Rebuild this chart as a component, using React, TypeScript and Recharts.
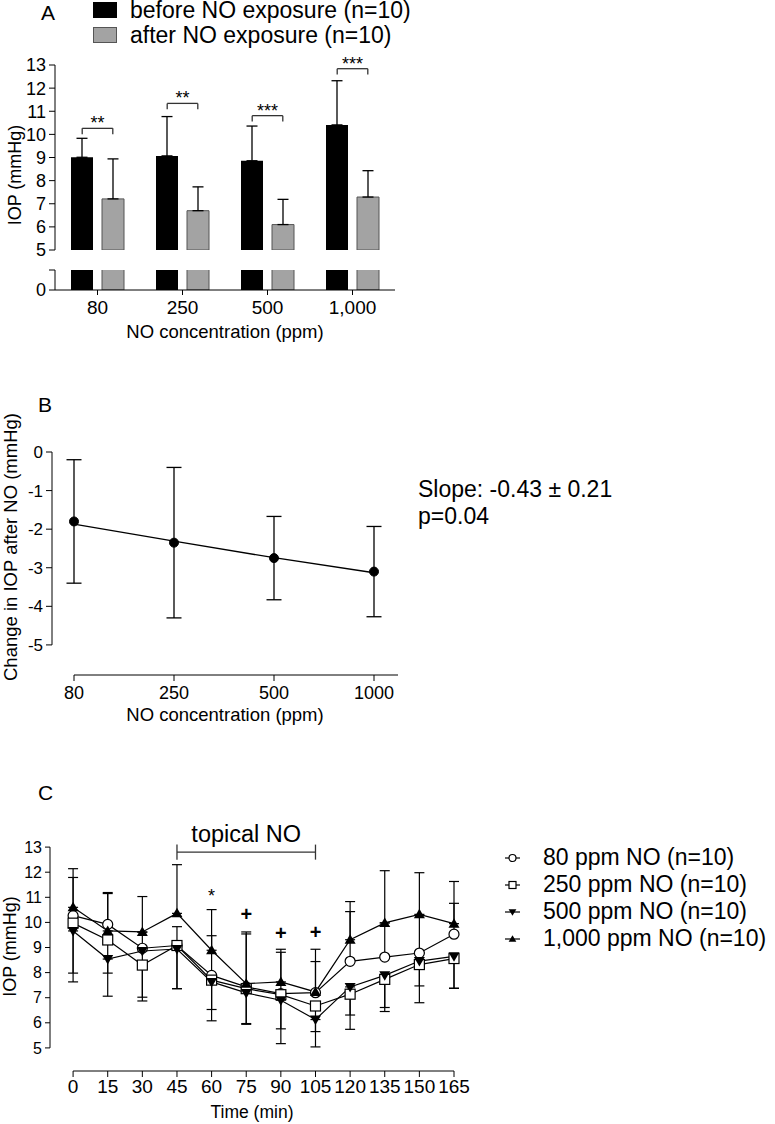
import React from "react";
import {
  Bar,
  BarChart,
  ErrorBar,
  Legend,
  Line,
  LineChart,
  ReferenceDot,
  ReferenceLine,
  XAxis,
  YAxis,
} from "recharts";

// panel A: IOP before / after NO exposure
const doseLabels = ["80", "250", "500", "1,000"];
const beforeMean = [9.01, 9.07, 8.86, 10.41];
const beforeSd = [0.82, 1.7, 1.5, 1.91];
const afterMean = [7.21, 6.7, 6.1, 7.29];
const afterSd = [1.73, 1.03, 1.09, 1.14];
const bracketAt = [10.26, 11.34, 10.81, 12.84];
const bracketStars = ["**", "**", "***", "***"];
const barNames = ["before NO exposure (n=10)", "after NO exposure (n=10)"];

// panel B: change in IOP vs dose
const doseLabelsB = ["80", "250", "500", "1000"];
const changeMean = [-1.8, -2.35, -2.75, -3.1];
const changeSd = [1.6, 1.95, 1.08, 1.17];
const changeFit = [-1.87, -2.31, -2.74, -3.13];

// panel C: time course
const times = [0, 15, 30, 45, 60, 75, 90, 105, 120, 135, 150, 165];
const m80 = [10.27, 9.92, 8.97, 9.08, 7.89, 7.43, 7.16, 7.2, 8.45, 8.62, 8.78, 9.53];
const up80 = [1.52, 1.23, 0.64, 0.75, 1.58, 2.11, 1.65, 1.24, 1.98, 1.36, 1.5, 1.23];
const m250 = [9.97, 9.3, 8.3, 9.08, 7.7, 7.36, 7.12, 6.67, 7.14, 7.73, 8.32, 8.56];
const down250 = [1.99, 1.32, 1.28, 1.72, 1.17, 1.39, 1.36, 1.02, 0.83, 1.12, 0.85, 1.18];
const m500 = [9.66, 8.54, 8.86, 8.94, 7.63, 7.19, 6.9, 6.13, 7.43, 7.89, 8.46, 8.65];
const down500 = [2.03, 1.48, 1.99, 1.58, 1.55, 1.25, 1.73, 1.09, 1.69, 1.44, 1.66, 1.28];
const m1000 = [10.6, 9.66, 9.62, 10.36, 8.89, 7.56, 7.63, 7.23, 9.31, 9.98, 10.32, 9.95];
const up1000 = [1.54, 1.53, 1.41, 1.94, 1.62, 2.06, 1.3, 1.7, 1.52, 2.08, 1.66, 1.68];
const seriesNames = ["80 ppm NO (n=10)", "250 ppm NO (n=10)", "500 ppm NO (n=10)", "1,000 ppm NO (n=10)"];
const marks = [
  { t: 60, v: 11.06, s: "*" },
  { t: 75, v: 10.33, s: "+" },
  { t: 90, v: 9.59, s: "+" },
  { t: 105, v: 9.62, s: "+" },
];

const rowsA = doseLabels.map((_, i) => ({
  x: i,
  before: beforeMean[i],
  after: afterMean[i],
  beforeErr: [0, beforeSd[i]],
  afterErr: [0, afterSd[i]],
}));

const rowsB = doseLabelsB.map((_, i) => ({
  x: i,
  mean: changeMean[i],
  err: changeSd[i],
  fit: changeFit[i],
}));

const rowsC = times.map((t, i) => ({
  t,
  m80: m80[i],
  e80: [0, up80[i]],
  m250: m250[i],
  e250: [down250[i], 0],
  m500: m500[i],
  e500: [down500[i], 0],
  m1000: m1000[i],
  e1000: [0, up1000[i]],
}));

const tick = (size: number) => ({ fill: "#000", fontSize: size });
const GRAY = "#a3a3a3";

function vTitle(text: string, dx: number, dy: number, size: number) {
  return (props: any) => {
    const vb = props.viewBox;
    const x = vb.x + dx;
    const y = vb.y + vb.height / 2 + dy;
    return (
      <text
        x={x}
        y={y}
        transform={`rotate(-90 ${x} ${y})`}
        textAnchor="middle"
        dominantBaseline="central"
        fontSize={size}
        fill="#000"
      >
        {text}
      </text>
    );
  };
}

function hTitle(text: string, dy: number, size: number) {
  return (props: any) => {
    const vb = props.viewBox;
    return (
      <text x={vb.x + vb.width / 2} y={vb.y + dy} textAnchor="middle" fontSize={size} fill="#000">
        {text}
      </text>
    );
  };
}

function Marker({ kind, cx, cy, r }: { kind: number; cx: number; cy: number; r: number }) {
  if (kind === 0) return <circle cx={cx} cy={cy} r={r} fill="#fff" stroke="#000" strokeWidth={1.2} />;
  if (kind === 1)
    return <rect x={cx - r} y={cy - r} width={2 * r} height={2 * r} fill="#fff" stroke="#000" strokeWidth={1.2} />;
  if (kind === 2)
    return (
      <polygon
        points={`${cx - r * 1.1},${cy - r * 0.8} ${cx + r * 1.1},${cy - r * 0.8} ${cx},${cy + r * 1.1}`}
        fill="#000"
      />
    );
  return (
    <polygon
      points={`${cx - r * 1.1},${cy + r * 0.8} ${cx + r * 1.1},${cy + r * 0.8} ${cx},${cy - r * 1.1}`}
      fill="#000"
    />
  );
}

const dotFor = (kind: number) => (p: any) => <Marker key={`m${kind}-${p.index}`} kind={kind} cx={p.cx} cy={p.cy} r={5} />;

function LegendA({ payload }: any) {
  return (
    <div style={{ whiteSpace: "nowrap" }}>
      {(payload || []).map((item: any) => (
        <div key={item.value} style={{ display: "flex", alignItems: "flex-start", height: 25, fontSize: 23 }}>
          <span
            style={{
              display: "inline-block",
              width: 24,
              height: 16,
              marginTop: 2,
              background: item.color,
              boxSizing: "border-box",
              border: `1px solid ${item.color === GRAY ? "#555" : "#000"}`,
              marginRight: 13,
            }}
          />
          <span style={{ lineHeight: "21px" }}>{item.value}</span>
        </div>
      ))}
    </div>
  );
}

function LegendC({ payload }: any) {
  return (
    <div style={{ whiteSpace: "nowrap" }}>
      {(payload || []).map((item: any) => (
        <div key={item.value} style={{ display: "flex", alignItems: "center", height: 27, fontSize: 23, lineHeight: "27px" }}>
          <svg width={38} height={14}>
            <line x1={0} y1={7} x2={15} y2={7} stroke="#000" strokeWidth={1.2} />
            <Marker kind={seriesNames.indexOf(item.value)} cx={7.5} cy={7} r={3.5} />
          </svg>
          <span>{item.value}</span>
        </div>
      ))}
    </div>
  );
}

const text = (left: number, top: number, size: number, content: React.ReactNode) => (
  <div style={{ position: "absolute", left, top, fontSize: size, lineHeight: 1, whiteSpace: "nowrap" }}>{content}</div>
);

export default function App() {
  return (
    <div
      style={{
        position: "absolute",
        left: 0,
        top: 0,
        width: 775,
        height: 1124,
        background: "#fff",
        fontFamily: "'Liberation Sans', Arial, sans-serif",
        color: "#000",
        overflow: "hidden",
      }}
    >
      {text(41, 2, 21, "A")}
      {text(38, 394, 21, "B")}
      {text(38, 782, 21, "C")}

      {/* Panel A, upper segment 5-13 */}
      <div style={{ position: "absolute", left: 0, top: 0 }}>
        <BarChart width={450} height={262} data={rowsA} margin={{ top: 65, right: 55, bottom: 12, left: 0 }} barGap={9} barSize={22}>
          <XAxis type="number" dataKey="x" domain={[-0.5, 3.5]} hide />
          <YAxis
            domain={[5, 13]}
            ticks={[5, 6, 7, 8, 9, 10, 11, 12, 13]}
            interval={0}
            allowDataOverflow
            width={55}
            tick={tick(18)}
            tickSize={6}
            tickMargin={3}
            stroke="#000"
            label={vTitle("IOP (mmHg)", 15, 17.5, 18)}
          />
          <Legend
            layout="vertical"
            align="center"
            verticalAlign="middle"
            itemSorter={(item: any) => barNames.indexOf(item.value)}
            wrapperStyle={{ left: 93, top: 0, width: 350 }}
            content={<LegendA />}
          />
          <Bar dataKey="before" name={barNames[0]} fill="#000" isAnimationActive={false}>
            <ErrorBar dataKey="beforeErr" direction="y" width={5.5} stroke="#000" strokeWidth={1.3} />
          </Bar>
          <Bar dataKey="after" name={barNames[1]} fill={GRAY} stroke="#555" isAnimationActive={false}>
            <ErrorBar dataKey="afterErr" direction="y" width={5.5} stroke="#000" strokeWidth={1.3} />
          </Bar>
          {bracketAt.map((b, i) => (
            <ReferenceLine key={`bh${i}`} segment={[{ x: i - 0.18, y: b }, { x: i + 0.18, y: b }]} stroke="#333" strokeWidth={1.3} />
          ))}
          {bracketAt.map((b, i) => (
            <ReferenceLine key={`bl${i}`} segment={[{ x: i - 0.18, y: b }, { x: i - 0.18, y: b - 0.25 }]} stroke="#333" strokeWidth={1.3} />
          ))}
          {bracketAt.map((b, i) => (
            <ReferenceLine key={`br${i}`} segment={[{ x: i + 0.18, y: b }, { x: i + 0.18, y: b - 0.25 }]} stroke="#333" strokeWidth={1.3} />
          ))}
          {bracketAt.map((b, i) => (
            <ReferenceDot
              key={`bs${i}`}
              x={i}
              y={b}
              r={0}
              fill="none"
              stroke="none"
              label={{ value: bracketStars[i], position: "top", offset: -1, fill: "#000", fontSize: 18 }}
            />
          ))}
        </BarChart>
      </div>

      {/* Panel A, lower segment near 0 */}
      <div style={{ position: "absolute", left: 0, top: 265 }}>
        <BarChart width={450} height={85} data={rowsA} margin={{ top: 5, right: 55, bottom: 0, left: 0 }} barGap={9} barSize={22}>
          <XAxis
            type="number"
            dataKey="x"
            domain={[-0.5, 3.5]}
            ticks={[0, 1, 2, 3]}
            interval={0}
            tickFormatter={(v) => doseLabels[v]}
            height={60}
            tick={tick(19)}
            tickSize={5}
            tickMargin={6}
            stroke="#000"
            label={hTitle("NO concentration (ppm)", 48, 18.5)}
          />
          <YAxis
            domain={[0, 0.87]}
            ticks={[0, 0.87]}
            interval={0}
            tickFormatter={(v) => (v === 0 ? "0" : "")}
            allowDataOverflow
            width={55}
            tick={tick(18)}
            tickSize={6}
            tickMargin={3}
            stroke="#000"
          />
          <Bar dataKey="before" fill="#000" isAnimationActive={false} />
          <Bar dataKey="after" fill={GRAY} stroke="#555" isAnimationActive={false} />
        </BarChart>
      </div>

      {/* Panel B */}
      <div style={{ position: "absolute", left: 0, top: 380 }}>
        <LineChart width={420} height={355} data={rowsB} margin={{ top: 72, right: 22, bottom: 0, left: 0 }}>
          <XAxis
            type="number"
            dataKey="x"
            domain={[-0.22, 3.24]}
            ticks={[0, 1, 2, 3]}
            interval={0}
            tickFormatter={(v) => doseLabelsB[v]}
            axisLine={false}
            height={60}
            tick={tick(18)}
            tickSize={6}
            tickMargin={5}
            stroke="#000"
            label={hTitle("NO concentration (ppm)", 45.5, 18.5)}
          />
          <YAxis
            domain={[-5.78, 0]}
            ticks={[0, -1, -2, -3, -4, -5]}
            interval={0}
            allowDataOverflow
            axisLine={false}
            width={52}
            tick={tick(17)}
            tickSize={6}
            tickMargin={3}
            stroke="#000"
            label={vTitle("Change in IOP after NO (mmHg)", 10, -16.5, 18.5)}
          />
          <ReferenceLine segment={[{ x: -0.22, y: 0 }, { x: -0.22, y: -5 }]} stroke="#000" ifOverflow="visible" />
          <ReferenceLine segment={[{ x: 0, y: -5.78 }, { x: 3.24, y: -5.78 }]} stroke="#000" ifOverflow="visible" />
          <Line dataKey="fit" stroke="#000" strokeWidth={1.3} dot={false} isAnimationActive={false} />
          <Line
            dataKey="mean"
            stroke="none"
            dot={{ r: 4.5, fill: "#000", stroke: "#000" }}
            isAnimationActive={false}
          >
            <ErrorBar dataKey="err" direction="y" width={7.5} stroke="#000" strokeWidth={1.3} />
          </Line>
        </LineChart>
      </div>
      {text(418, 478, 23, "Slope: -0.43 \u00b1 0.21")}
      {text(418, 505, 23, "p=0.04")}

      {/* Panel C */}
      <div style={{ position: "absolute", left: 0, top: 780 }}>
        <LineChart width={775} height={344} data={rowsC} margin={{ top: 42, right: 321, bottom: 0, left: 0 }}>
          <XAxis
            type="number"
            dataKey="t"
            domain={[-10, 165]}
            ticks={times}
            interval={0}
            axisLine={false}
            height={53}
            tick={tick(19)}
            tickSize={6}
            tickMargin={3}
            stroke="#000"
            label={hTitle("Time (min)", 46.5, 17.5)}
          />
          <YAxis
            domain={[4.08, 14]}
            ticks={[5, 6, 7, 8, 9, 10, 11, 12, 13]}
            interval={0}
            allowDataOverflow
            axisLine={false}
            width={50}
            tick={tick(16)}
            tickSize={5}
            tickMargin={3}
            stroke="#000"
            label={vTitle("IOP (mmHg)", 10, 0, 18)}
          />
          <ReferenceLine segment={[{ x: -10, y: 5 }, { x: -10, y: 13 }]} stroke="#000" ifOverflow="visible" />
          <ReferenceLine segment={[{ x: 0, y: 4.08 }, { x: 165, y: 4.08 }]} stroke="#000" ifOverflow="visible" />
          <ReferenceLine segment={[{ x: 45, y: 12.8 }, { x: 105, y: 12.8 }]} stroke="#333" strokeWidth={1.3} />
          <ReferenceLine segment={[{ x: 45, y: 12.5 }, { x: 45, y: 13.1 }]} stroke="#333" strokeWidth={1.3} />
          <ReferenceLine segment={[{ x: 105, y: 12.5 }, { x: 105, y: 13.1 }]} stroke="#333" strokeWidth={1.3} />
          <ReferenceDot
            x={75}
            y={12.8}
            r={0}
            fill="none"
            stroke="none"
            label={{ value: "topical NO", position: "top", offset: 10, fill: "#000", fontSize: 23.5 }}
          />
          {marks.map((m) => (
            <ReferenceDot
              key={`mk${m.t}`}
              x={m.t}
              y={m.v}
              r={0}
              fill="none"
              stroke="none"
              label={{
                value: m.s,
                position: "center",
                fill: "#000",
                fontSize: m.s === "+" ? 20 : 18,
                fontWeight: m.s === "+" ? "bold" : "normal",
              }}
            />
          ))}
          <Legend
            layout="vertical"
            align="center"
            verticalAlign="middle"
            itemSorter={(item: any) => seriesNames.indexOf(item.value)}
            wrapperStyle={{ left: 505, top: 64, width: 270 }}
            content={<LegendC />}
          />
          <Line dataKey="m80" name={seriesNames[0]} stroke="#000" strokeWidth={1.2} dot={dotFor(0)} isAnimationActive={false}>
            <ErrorBar dataKey="e80" direction="y" width={5} stroke="#000" strokeWidth={1.2} />
          </Line>
          <Line dataKey="m250" name={seriesNames[1]} stroke="#000" strokeWidth={1.2} dot={dotFor(1)} isAnimationActive={false}>
            <ErrorBar dataKey="e250" direction="y" width={5} stroke="#000" strokeWidth={1.2} />
          </Line>
          <Line dataKey="m500" name={seriesNames[2]} stroke="#000" strokeWidth={1.2} dot={dotFor(2)} isAnimationActive={false}>
            <ErrorBar dataKey="e500" direction="y" width={5} stroke="#000" strokeWidth={1.2} />
          </Line>
          <Line dataKey="m1000" name={seriesNames[3]} stroke="#000" strokeWidth={1.2} dot={dotFor(3)} isAnimationActive={false}>
            <ErrorBar dataKey="e1000" direction="y" width={5} stroke="#000" strokeWidth={1.2} />
          </Line>
        </LineChart>
      </div>
    </div>
  );
}
